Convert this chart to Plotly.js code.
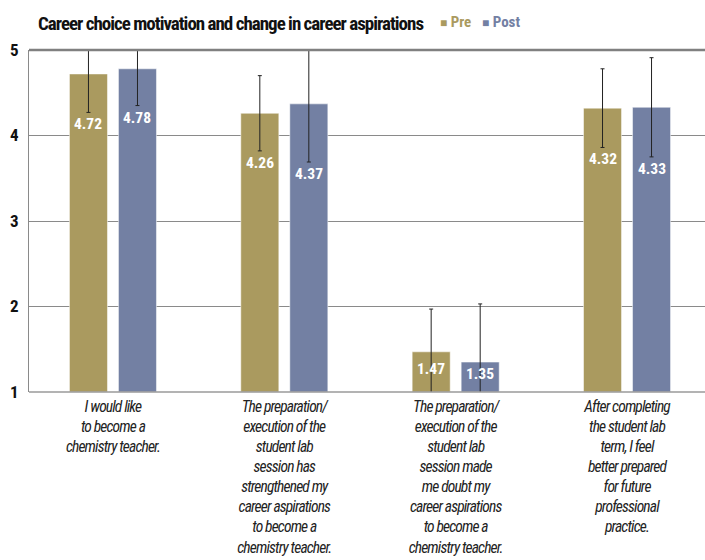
<!DOCTYPE html>
<html>
<head>
<meta charset="utf-8">
<script src="https://cdn.plot.ly/plotly-3.0.1.min.js"></script>
<style>
html,body{margin:0;padding:0;background:#fff;}
#chart{width:705px;height:560px;}
#chart .xtick text{letter-spacing:-0.85px;}
#chart .gtitle{letter-spacing:-1.0px;}
</style>
</head>
<body>
<div id="chart"></div>
<script>
var categories = [
  "I would like<br>to become a<br>chemistry teacher.",
  "The preparation/<br>execution of the<br>student lab<br>session has<br>strengthened my<br>career aspirations<br>to become a<br>chemistry teacher.",
  "The preparation/<br>execution of the<br>student lab<br>session made<br>me doubt my<br>career aspirations<br>to become a<br>chemistry teacher.",
  "After completing<br>the student lab<br>term, I feel<br>better prepared<br>for future<br>professional<br>practice."
];
var positions = [0, 1, 2, 3];
var preValues = [4.72, 4.26, 1.47, 4.32];
var postValues = [4.78, 4.37, 1.35, 4.33];
var preErrors = [0.45, 0.44, 0.50, 0.46];
var postErrors = [0.43, 0.68, 0.68, 0.58];
var yTicks = [1, 2, 3, 4, 5];

var PRE_COLOR = "#AA9A5F";
var POST_COLOR = "#7380A3";
var FONT = "Roboto Condensed, Roboto, sans-serif";
var Y_MIN = 1, Y_MAX = 5;

function barTrace(name, vals, errs, color) {
  return {
    type: "bar", name: name, x: positions, y: vals,
    base: Y_MIN,
    marker: {color: color, line: {color: "rgba(255,255,255,0.5)", width: 1}},
    error_y: {type: "data", array: errs, visible: true, color: "#222", thickness: 1, width: 2},
    hoverinfo: "skip"
  };
}
// bars start at axis minimum; bar heights are value - base
function heights(vals) { return vals.map(function(v){ return v - Y_MIN; }); }

var traces = [
  barTrace("Pre", heights(preValues), preErrors, PRE_COLOR),
  barTrace("Post", heights(postValues), postErrors, POST_COLOR)
];

var annotations = [];
function addLabels(vals, errs, shift) {
  vals.forEach(function(v, i) {
    var low = v - errs[i];
    var inside = low > Y_MIN;
    annotations.push({
      xref: "x", yref: "y", x: positions[i], y: inside ? low : (Y_MIN + v) / 2,
      xshift: shift, yshift: inside ? -1 : 3,
      yanchor: inside ? "top" : "middle", showarrow: false,
      text: v.toFixed(2),
      font: {family: FONT, size: 15.5, color: "#ffffff", weight: "bold"}
    });
  });
}
addLabels(preValues, preErrors, -24.5);
addLabels(postValues, postErrors, 24.5);

// legend as coloured text
annotations.push({xref: "paper", yref: "paper", x: 0.605, y: 1.0, yshift: 28, xanchor: "left", yanchor: "middle",
  showarrow: false, text: "<span style='font-size:12px'>■</span> Pre", font: {family: FONT, size: 15, color: PRE_COLOR, weight: "bold"}});
annotations.push({xref: "paper", yref: "paper", x: 0.667, y: 1.0, yshift: 28, xanchor: "left", yanchor: "middle",
  showarrow: false, text: "<span style='font-size:12px'>■</span> Post", font: {family: FONT, size: 15, color: POST_COLOR, weight: "bold"}});

var layout = {
  width: 705, height: 560,
  margin: {l: 29, r: 0, t: 50, b: 168},
  paper_bgcolor: "#fff", plot_bgcolor: "#fff",
  title: {text: "Career choice motivation and change in career aspirations",
    font: {family: FONT, size: 19, color: "#111", weight: "bold"},
    x: 0.327, xanchor: "center", y: 0.959, yanchor: "middle"},
  showlegend: false,
  barmode: "group", bargap: 0.428, bargroupgap: 0.224,
  xaxis: {
    range: [-0.49, 3.455], tickvals: positions, ticktext: categories,
    tickfont: {family: FONT, size: 15.5, color: "#222", style: "italic"},
    ticklabelstandoff: 3,
    showgrid: false, zeroline: false, showline: false, ticks: "", fixedrange: true
  },
  yaxis: {
    range: [Y_MIN, Y_MAX], tickvals: yTicks,
    tickfont: {family: FONT, size: 17, color: "#111", weight: "bold"},
    showgrid: true, gridcolor: "#8a8a8a", gridwidth: 1,
    zeroline: false, showline: true, linecolor: "#8a8a8a", linewidth: 1,
    ticks: "", ticklabelstandoff: 6, fixedrange: true
  },
  shapes: [
    {type: "line", xref: "paper", yref: "paper", x0: 0, x1: 1, y0: 1, y1: 1, line: {color: "#808080", width: 2.5}},
    {type: "line", xref: "paper", yref: "paper", x0: 0, x1: 1, y0: 0, y1: 0, line: {color: "#9a9a9a", width: 1.5}}
  ],
  annotations: annotations,
  font: {family: FONT}
};

Plotly.newPlot("chart", traces, layout, {displayModeBar: false, staticPlot: true});
</script>
</body>
</html>
